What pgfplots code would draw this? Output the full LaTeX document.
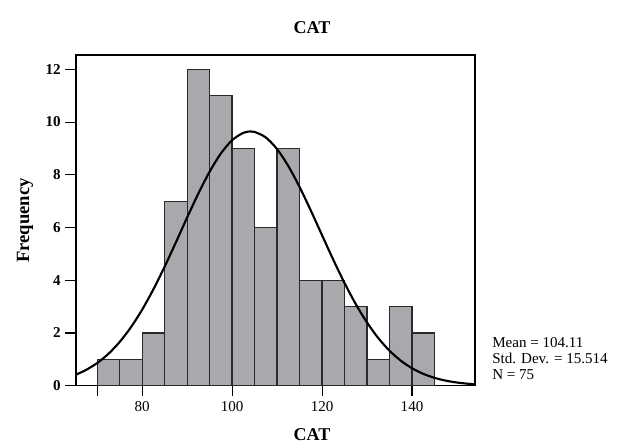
\documentclass[border=0pt]{standalone}
\usepackage{fontspec}
\setmainfont{Liberation Serif}
\usepackage{pgfplots}
\pgfplotsset{compat=1.18}

\definecolor{barFill}{HTML}{A9A9AD}
\definecolor{barEdge}{HTML}{2A2A2A}

\begin{document}
\begin{tikzpicture}
\begin{axis}[
    name=ax, at={(0,0)}, anchor=south west,
    scale only axis, width=299.25pt, height=248pt,
    xmin=65.3, xmax=154, ymin=0, ymax=12.54,
    xtick={70,80,100,120,140}, xticklabels={,80,100,120,140},
    ytick={0,2,4,6,8,10,12},
    tick align=outside, major tick length=8pt,
    xtick pos=bottom, ytick pos=left,
    tick style={black, line width=0.8pt},
    tick label style={font=\fontsize{11.3}{13}\selectfont},
    yticklabel style={font=\bfseries\fontsize{11.3}{13}\selectfont},
    /pgf/number format/assume math mode=true,
    axis line style={black, line width=0.9pt},
]
% histogram, bin width 5
\addplot[ybar interval, fill=barFill, draw=barEdge, line width=0.9pt]
  coordinates {(70,1) (75,1) (80,2) (85,7) (90,12) (95,11) (100,9)
               (105,6) (110,9) (115,4) (120,4) (125,3) (130,1)
               (135,3) (140,2) (145,2)};
% fitted normal curve (mean 104.11, sd 15.514, N*width = 375)
\addplot[black, line width=1.6pt, smooth]
  coordinates {(65.3,0.4221) (67.5,0.5956) (70,0.8599) (72.5,1.2097)
               (75,1.6589) (77.5,2.2149) (80,2.8824) (82.5,3.6552)
               (85,4.5158) (87.5,5.4360) (90,6.3768) (92.5,7.2881)
               (95,8.1162) (97.5,8.8064) (100,9.3106) (102.5,9.5913)
               (104.11,9.6431) (105,9.6272) (107.5,9.4156) (110,8.9726)
               (112.5,8.3313) (115,7.5372) (117.5,6.6447) (120,5.7073)
               (122.5,4.7765) (125,3.8950) (127.5,3.0947) (130,2.3959)
               (132.5,1.8074) (135,1.3283) (137.5,0.9513) (140,0.6638)
               (142.5,0.4513) (145,0.2990) (147.5,0.1930) (150,0.1214)
               (152.5,0.0744) (154,0.0548)};
\end{axis}

% titles and labels
\node[font=\bfseries\fontsize{13.5}{16}\selectfont] at (177pt,268.25pt) {CAT};
\node[font=\bfseries\fontsize{13.5}{16}\selectfont] at (177pt,-36.75pt) {CAT};
\node[font=\bfseries\fontsize{14}{16}\selectfont, rotate=90] at (-38.25pt,124pt) {Frequency};

% statistics
\node[anchor=base west, font=\fontsize{11.3}{13}\selectfont, inner sep=0pt] at (312pt,28.8pt) {Mean = 104.11};
\node[anchor=base west, font=\fontsize{11.3}{13}\selectfont, inner sep=0pt] at (312pt,16.8pt) {Std. Dev. = 15.514};
\node[anchor=base west, font=\fontsize{11.3}{13}\selectfont, inner sep=0pt] at (312pt,4.8pt) {N = 75};

\pgfresetboundingbox
\path[use as bounding box] (-57pt,-45.2pt) rectangle (406.5pt,289.3pt);
\end{tikzpicture}
\end{document}
